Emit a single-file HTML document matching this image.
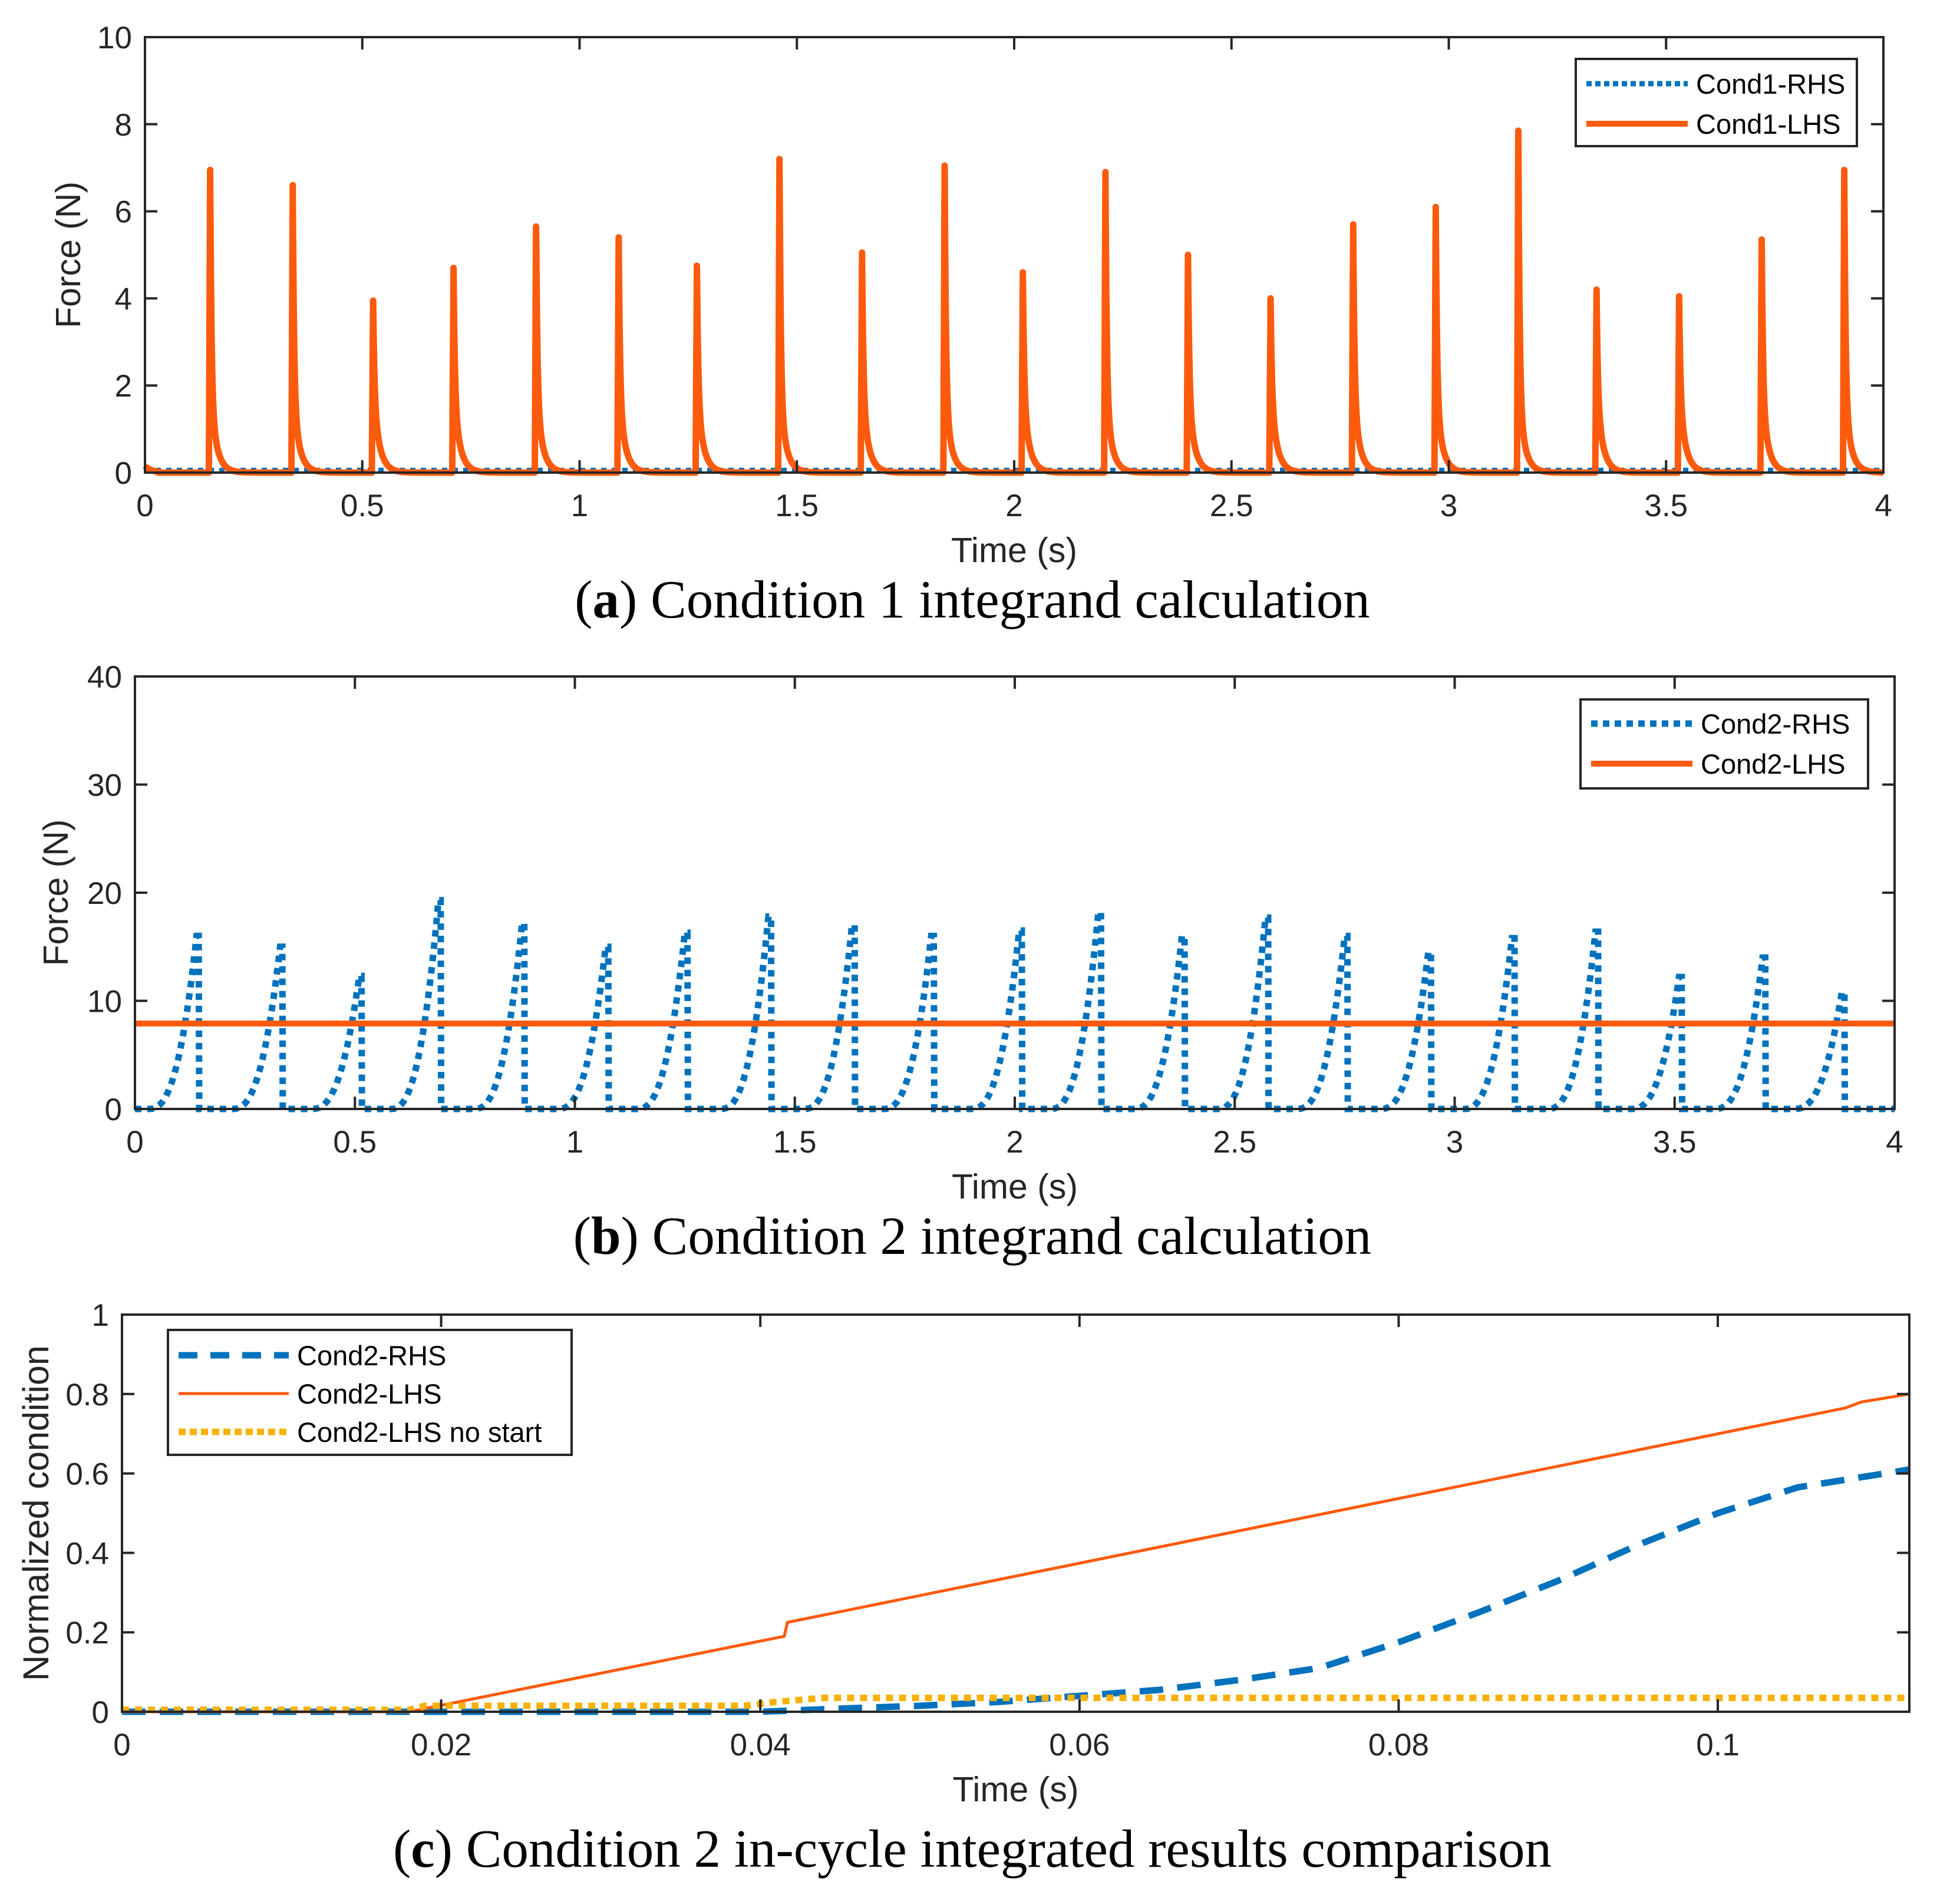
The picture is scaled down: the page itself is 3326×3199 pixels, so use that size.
<!DOCTYPE html>
<html><head><meta charset="utf-8"><style>
html,body{margin:0;padding:0;background:#fff;}
svg{display:block;}
text{font-family:"Liberation Sans",Arial,sans-serif;}
.cap{font-family:"Liberation Serif","Times New Roman",serif;}
</style></head><body>
<svg id="fig" width="3326" height="3199" viewBox="0 0 3326 3199" xmlns="http://www.w3.org/2000/svg"></svg>
<script>
// ---- Panel (a) data ----
const aPeakTimes = [0.15,0.34,0.525,0.71,0.9,1.09,1.27,1.46,1.65,1.84,2.02,2.21,2.40,2.59,2.78,2.97,3.16,3.34,3.53,3.72,3.91];
const aPeakHeights = [6.95,6.6,3.95,4.7,5.65,5.4,4.75,7.2,5.05,7.05,4.6,6.9,5.0,4.0,5.7,6.1,7.85,4.2,4.05,5.35,6.95];
const aRhsLevel = [0.05];
const aYTicks = [0,2,4,6,8,10];
const aXTicks = [0,0.5,1,1.5,2,2.5,3,3.5,4];
// ---- Panel (b) data ----
const bPeakTimes = [0.14,0.33,0.51,0.69,0.88,1.07,1.25,1.44,1.63,1.81,2.01,2.19,2.38,2.57,2.75,2.94,3.13,3.32,3.51,3.70,3.88];
const bPeakHeights = [16,15,12.3,19.3,17.2,15,16.3,17.8,17,16,16.5,18.2,16,17.7,16,14.5,15.8,16.4,12.2,14,10.8];
const bLhsLevel = [7.9];
const bYTicks = [0,10,20,30,40];
const bXTicks = [0,0.5,1,1.5,2,2.5,3,3.5,4];
// ---- Panel (c) data ----
const cLhsT = [0,0.018,0.0415,0.0417,0.108,0.109,0.112];
const cLhsV = [0,0,0.19,0.225,0.765,0.78,0.8];
const cRhsT = [0,0.04,0.045,0.05,0.055,0.06,0.065,0.07,0.075,0.08,0.085,0.09,0.095,0.1,0.105,0.112];
const cRhsV = [0,0,0.008,0.015,0.025,0.04,0.055,0.08,0.11,0.175,0.25,0.33,0.42,0.5,0.565,0.61];
const cNsT = [0,0.018,0.019,0.039,0.041,0.044,0.112];
const cNsV = [0.005,0.005,0.015,0.015,0.025,0.035,0.035];
const cYTicks = [0,0.2,0.4,0.6,0.8,1];
const cXTicks = [0,0.02,0.04,0.06,0.08,0.1];

const NS="http://www.w3.org/2000/svg";
const svg=document.getElementById('fig');
function mk(tag,attrs,parent){const e=document.createElementNS(NS,tag);for(const k in attrs)e.setAttribute(k,attrs[k]);(parent||svg).appendChild(e);return e;}
function txt(s,attrs,parent){const e=mk('text',attrs,parent);e.textContent=s;return e;}

function axes(p){
  const g=mk('g',{});
  
  
  const sx=v=>p.x0+(v-p.xmin)/(p.xmax-p.xmin)*(p.x1-p.x0);
  const sy=v=>p.y1-(v-p.ymin)/(p.ymax-p.ymin)*(p.y1-p.y0);
  return {g,sx,sy};
}
function frame(p,A){
  const g=mk('g',{});
  
  
  mk('rect',{x:p.x0,y:p.y0,width:p.x1-p.x0,height:p.y1-p.y0,fill:'none',stroke:'#262626','stroke-width':4},g);
  p.xt.forEach(v=>{const x=A.sx(v);
    mk('line',{x1:x,y1:p.y1,x2:x,y2:p.y1-21,stroke:'#262626','stroke-width':4},g);
    mk('line',{x1:x,y1:p.y0,x2:x,y2:p.y0+21,stroke:'#262626','stroke-width':4},g);
    const t=txt(String(v),{x:x,y:p.y1+74,'font-size':53,'text-anchor':'middle',fill:'#262626'},g);
    
    
  });
  p.yt.forEach(v=>{const y=A.sy(v);
    mk('line',{x1:p.x0,y1:y,x2:p.x0+21,y2:y,stroke:'#262626','stroke-width':4},g);
    mk('line',{x1:p.x1,y1:y,x2:p.x1-21,y2:y,stroke:'#262626','stroke-width':4},g);
    const t=txt(String(v),{x:p.x0-22,y:y+19,'font-size':53,'text-anchor':'end',fill:'#262626'},g);
    
    
  });
  const xl=txt('Time (s)',{x:(p.x0+p.x1)/2,y:p.y1+152,'font-size':59,'text-anchor':'middle',fill:'#262626'},g);
  
  
  const yl=txt(p.ylab,{x:0,y:0,'font-size':p.ylfs,'text-anchor':'middle',fill:'#262626',transform:`translate(${p.ylx},${(p.y0+p.y1)/2}) rotate(-90)`},g);
  
  
  const cp=txt('',{x:1650,y:p.capy,'font-size':91,'text-anchor':'middle',fill:'#000',class:'cap'},g);
  cp.innerHTML='(<tspan font-weight="bold">'+p.capL+'</tspan>) '+p.cap;
  
  
}
function poly(A,pts,style,name,parent){
  const d=pts.map((q,i)=>(i?'L':'M')+A.sx(q[0]).toFixed(1)+' '+A.sy(q[1]).toFixed(1)).join(' ');
  const e=mk('path',Object.assign({d:d,fill:'none'},style),parent);
  
  
  return e;
}
function legend(box,items){
  const g=mk('g',{});
  
  
  mk('rect',{x:box.x,y:box.y,width:box.w,height:box.h,fill:'#fff',stroke:'#262626','stroke-width':4},g);
  items.forEach((it,i)=>{
    const y=box.y+box.first+i*box.step;
    const l=mk('line',Object.assign({x1:box.x+18,y1:y,x2:box.x+box.lw,y2:y},it.style),g);
    
    
    const t=txt(it.label,{x:box.x+box.lw+14,y:y+17,'font-size':47,fill:'#000'},g);
    
    
  });
}

// Panel a
const pa={name:'panel-a',x0:246,x1:3196,y0:63,y1:802,xmin:0,xmax:4,ymin:0,ymax:10,xt:aXTicks,yt:aYTicks,ylab:'Force (N)',ylfs:59,ylx:136,capy:1048,capL:'a',cap:'Condition 1 integrand calculation'};
const Aa=axes(pa);
poly(Aa,[[0,aRhsLevel[0]],[4,aRhsLevel[0]]],{stroke:'#0072BD','stroke-width':9,'stroke-dasharray':'9 9'},'cond1-rhs-line',Aa.g);
(function(){
  const pts=[];const dt=0.0005;
  for(let t=0;t<=4.0001;t+=dt){
    let v=0;
    if(t<0.03) v=0.15*Math.exp(-t/0.015);
    for(let i=0;i<aPeakTimes.length;i++){
      const d=t-aPeakTimes[i],h=aPeakHeights[i];
      if(d>=-0.003&&d<0) v+=h*(d+0.003)/0.003;
      else if(d>=0&&d<0.14) v+=(h-1.8)*Math.exp(-d/0.003)+1.8*Math.exp(-d/0.014);
    }
    pts.push([t,v]);
  }
  poly(Aa,pts,{stroke:'#FC5A0C','stroke-width':11,'stroke-linejoin':'round'},'cond1-lhs-line',Aa.g);
})();
frame(pa,Aa);
legend({x:2674,y:100,w:477,h:148,first:42,step:68,lw:190},[
  {label:'Cond1-RHS',style:{stroke:'#0072BD','stroke-width':9,'stroke-dasharray':'9 6'}},
  {label:'Cond1-LHS',style:{stroke:'#FC5A0C','stroke-width':10}}]);

// Panel b
const pb={name:'panel-b',x0:229,x1:3215,y0:1148,y1:1882,xmin:0,xmax:4,ymin:0,ymax:40,xt:bXTicks,yt:bYTicks,ylab:'Force (N)',ylfs:59,ylx:115,capy:2128,capL:'b',cap:'Condition 2 integrand calculation'};
const Ab=axes(pb);
(function(){
  const pts=[];const dt=0.001;const w=0.11;
  for(let t=0;t<=4.0001;t+=dt){
    let v=0;
    for(let i=0;i<bPeakTimes.length;i++){
      const d=t-bPeakTimes[i],h=bPeakHeights[i];
      if(d>=-w&&d<=0.006) v+=h*Math.pow(Math.min(1,(d+w)/w),2.6);
    }
    pts.push([t,v]);
  }
  poly(Ab,pts,{stroke:'#0072BD','stroke-width':11,'stroke-dasharray':'11 10'},'cond2-rhs-line',Ab.g);
})();
poly(Ab,[[0,bLhsLevel[0]],[4,bLhsLevel[0]]],{stroke:'#FC5A0C','stroke-width':10},'cond2-lhs-line',Ab.g);
frame(pb,Ab);
legend({x:2682,y:1187,w:488,h:151,first:41,step:68,lw:190},[
  {label:'Cond2-RHS',style:{stroke:'#0072BD','stroke-width':11,'stroke-dasharray':'11 9'}},
  {label:'Cond2-LHS',style:{stroke:'#FC5A0C','stroke-width':10}}]);

// Panel c
const pc={name:'panel-c',x0:207,x1:3240,y0:2231,y1:2905,xmin:0,xmax:0.112,ymin:0,ymax:1,xt:cXTicks,yt:cYTicks,ylab:'Normalized condition',ylfs:61,ylx:82,capy:3168,capL:'c',cap:'Condition 2 in-cycle integrated results comparison'};
const Ac=axes(pc);
const zip=(T,V)=>T.map((t,i)=>[t,V[i]]);
poly(Ac,zip(cRhsT,cRhsV),{stroke:'#0072BD','stroke-width':11,'stroke-dasharray':'40 24'},'cond2-rhs-integrated',Ac.g);
poly(Ac,zip(cLhsT,cLhsV),{stroke:'#FC5A0C','stroke-width':5},'cond2-lhs-integrated',Ac.g);
poly(Ac,zip(cNsT,cNsV),{stroke:'#F9B10A','stroke-width':11,'stroke-dasharray':'12 10'},'cond2-lhs-no-start',Ac.g);
frame(pc,Ac);
legend({x:285,y:2257,w:685,h:212,first:43,step:65,lw:205},[
  {label:'Cond2-RHS',style:{stroke:'#0072BD','stroke-width':11,'stroke-dasharray':'32 22'}},
  {label:'Cond2-LHS',style:{stroke:'#FC5A0C','stroke-width':5}},
  {label:'Cond2-LHS no start',style:{stroke:'#F9B10A','stroke-width':11,'stroke-dasharray':'12 7'}}]);
</script>
</body></html>
